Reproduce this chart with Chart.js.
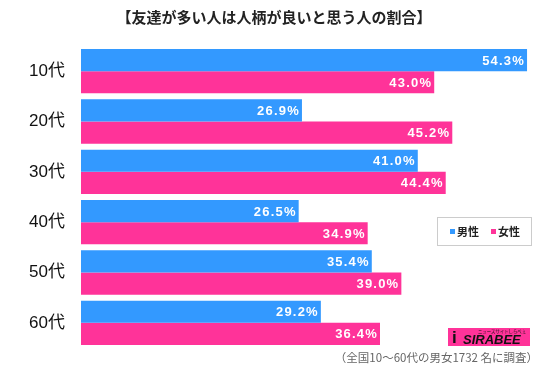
<!DOCTYPE html>
<html>
<head>
<meta charset="utf-8">
<script src="https://cdn.jsdelivr.net/npm/chart.js@4.4.1/dist/chart.umd.min.js"></script>
<style>
    html, body { margin: 0; padding: 0; background: #fff; }
    #wrap { width: 550px; height: 377px; position: relative; }
</style>
</head>
<body>
<div id="wrap"><canvas id="chart" width="550" height="377"></canvas></div>
<script>
const ageGroups = ['10代', '20代', '30代', '40代', '50代', '60代'];
const maleValues = [54.3, 26.9, 41.0, 26.5, 35.4, 29.2];
const femaleValues = [43.0, 45.2, 44.4, 34.9, 39.0, 36.4];
const seriesNames = ['男性', '女性'];
const chartTitle = '【友達が多い人は人柄が良いと思う人の割合】';
const footNote = '（全国10～60代の男女1732 名に調査）';

const BLUE = '#3399ff';
const PINK = '#ff3399';
const JP_FONT = '"Noto Sans CJK JP", "Noto Sans", sans-serif';
const NUM_FONT = '"Liberation Sans", "Noto Sans CJK JP", sans-serif';

// value labels inside the end of each bar
const barLabels = {
    id: 'barLabels',
    afterDatasetsDraw(chart) {
        const ctx = chart.ctx;
        ctx.save();
        ctx.fillStyle = '#fff';
        ctx.font = 'bold 13px ' + NUM_FONT;
        ctx.letterSpacing = '1.2px';
        ctx.textAlign = 'right';
        ctx.textBaseline = 'middle';
        chart.data.datasets.forEach((ds, i) => {
            chart.getDatasetMeta(i).data.forEach((bar, j) => {
                ctx.fillText(ds.data[j].toFixed(1) + '%', bar.x - 2, bar.y + 1);
            });
        });
        ctx.restore();
    }
};

// title, legend box, logo and footnote
const extras = {
    id: 'extras',
    afterDraw(chart) {
        const ctx = chart.ctx;
        ctx.save();

        ctx.fillStyle = '#222';
        ctx.font = 'bold 15px ' + JP_FONT;
        ctx.textAlign = 'center';
        ctx.textBaseline = 'middle';
        ctx.fillText(chartTitle, 274, 17);

        // legend
        ctx.fillStyle = '#fff';
        ctx.fillRect(437, 217, 95, 29);
        ctx.strokeStyle = '#ccc';
        ctx.lineWidth = 1;
        ctx.strokeRect(437.5, 217.5, 94, 28);
        ctx.font = 'bold 11px ' + JP_FONT;
        ctx.textAlign = 'left';
        [BLUE, PINK].forEach((c, i) => {
            const x = 450 + i * 41;
            ctx.fillStyle = c;
            ctx.fillRect(x, 229, 5, 5);
            ctx.fillStyle = '#222';
            ctx.fillText(seriesNames[i], x + 7, 232);
        });

        // logo
        ctx.fillStyle = '#ff3399';
        ctx.fillRect(448, 328, 82, 18);
        ctx.fillStyle = '#111';
        ctx.font = 'italic bold 13px "Liberation Sans", sans-serif';
        ctx.fillText('SIRABEE', 463, 340.5, 65);
        ctx.font = 'bold 17px "Liberation Sans", sans-serif';
        ctx.fillText('i', 452, 338);
        ctx.font = '4.5px ' + JP_FONT;
        ctx.fillText('ニュースサイトしらべぇ', 478, 331, 48);

        // footnote
        ctx.fillStyle = '#666';
        ctx.font = '11.5px ' + JP_FONT;
        ctx.textAlign = 'right';
        ctx.fillText(footNote, 538, 358);

        ctx.restore();
    }
};

new Chart(document.getElementById('chart').getContext('2d'), {
    type: 'bar',
    data: {
        labels: ageGroups,
        datasets: [{
            label: seriesNames[0],
            data: maleValues,
            backgroundColor: BLUE,
            borderWidth: 0
        }, {
            label: seriesNames[1],
            data: femaleValues,
            backgroundColor: PINK,
            borderWidth: 0
        }]
    },
    options: {
        indexAxis: 'y',
        responsive: false,
        animation: false,
        layout: {
            padding: { top: 46, bottom: 29, right: 9, left: 0 }
        },
        plugins: {
            legend: { display: false },
            title: { display: false },
            tooltip: { enabled: false }
        },
        datasets: {
            bar: { categoryPercentage: 0.88, barPercentage: 1.0 }
        },
        scales: {
            x: {
                display: false,
                min: 0,
                max: 56
            },
            y: {
                afterFit(scale) { scale.width = 81; },
                grid: { display: false, drawTicks: false },
                border: { display: false },
                ticks: {
                    color: '#111',
                    padding: 16,
                    font: { size: 17, family: NUM_FONT }
                }
            }
        }
    },
    plugins: [barLabels, extras]
});
</script>
</body>
</html>
